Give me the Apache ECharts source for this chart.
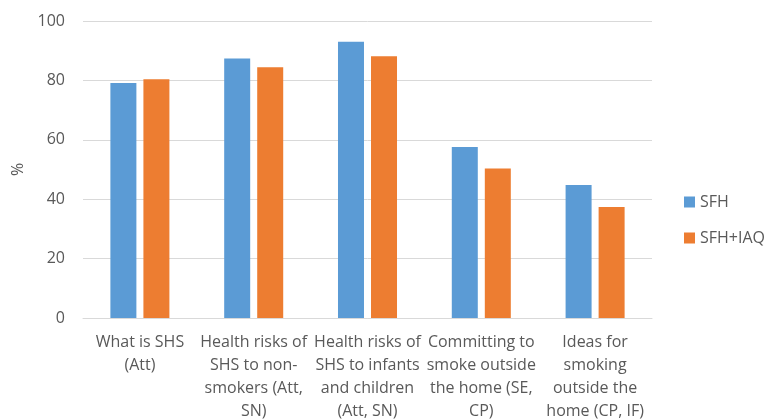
<!DOCTYPE html>
<html>
<head>
<meta charset="utf-8">
<script src="https://cdn.jsdelivr.net/npm/echarts@6/dist/echarts.min.js"></script>
<style>html,body{margin:0;padding:0;background:#fff}#c{width:769px;height:420px}</style>
</head>
<body>
<div id="c"></div>
<script>
const categories = [
  "What is SHS\n(Att)",
  "Health risks of\nSHS to non-\nsmokers (Att,\nSN)",
  "Health risks of\nSHS to infants\nand children\n(Att, SN)",
  "Committing to\nsmoke outside\nthe home (SE,\nCP)",
  "Ideas for\nsmoking\noutside the\nhome (CP, IF)"
];
const sfh = [79.1, 87.4, 93.0, 57.6, 44.8];
const sfhIaq = [80.4, 84.4, 88.1, 50.3, 37.4];
const seriesNames = ["SFH", "SFH+IAQ"];

const font = "Open Sans";
const chart = echarts.init(document.getElementById('c'));
chart.setOption({
  animation: false,
  textStyle: { fontFamily: font },
  grid: { left: 83, right: 117, top: 21, bottom: 102, containLabel: false, outerBoundsMode: 'none' },
  legend: {
    orient: 'vertical', left: 679, top: 189, itemWidth: 11, itemHeight: 11, itemGap: 20,
    icon: 'rect', itemTextGap: 5,
    textStyle: { fontFamily: font, fontSize: 16, color: '#595959' },
    data: seriesNames
  },
  xAxis: {
    type: 'category', data: categories,
    axisLine: { lineStyle: { color: '#D9D9D9', width: 1 } },
    axisTick: { show: false },
    axisLabel: { interval: 0, fontFamily: font, fontSize: 16, color: '#595959', lineHeight: 23, margin: 13 }
  },
  yAxis: {
    type: 'value', min: 0, max: 100, interval: 20,
    name: '%', nameLocation: 'middle', nameGap: 56, nameRotate: 90,
    nameTextStyle: { fontFamily: font, fontSize: 16, color: '#595959' },
    axisLine: { show: false }, axisTick: { show: false },
    axisLabel: { fontFamily: font, fontSize: 16, color: '#595959', margin: 18 },
    splitLine: { lineStyle: { color: '#D9D9D9', width: 1 } }
  },
  series: [
    { name: seriesNames[0], type: 'bar', data: sfh, barWidth: 26, barGap: '27%',
      itemStyle: { color: '#5B9BD5' } },
    { name: seriesNames[1], type: 'bar', data: sfhIaq, barWidth: 26,
      itemStyle: { color: '#ED7D31' } }
  ]
});
</script>
</body>
</html>
